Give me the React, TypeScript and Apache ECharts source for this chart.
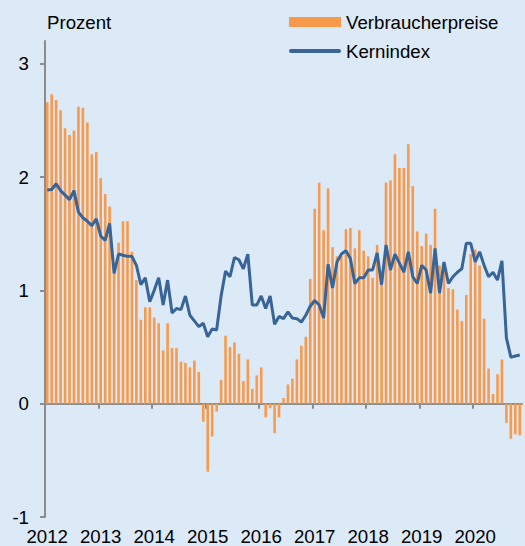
import React, { useEffect, useRef } from "react";
import * as echarts from "echarts";

const years = ["2012", "2013", "2014", "2015", "2016", "2017", "2018", "2019", "2020"];
const monthsInLastYear = 11;
const months: string[] = [];
years.forEach((y, yi) => {
  const n = yi === years.length - 1 ? monthsInLastYear : 12;
  for (let m = 1; m <= n; m++) months.push(`${y}-${String(m).padStart(2, "0")}`);
});

const verbraucherpreise = [
  2.66, 2.73, 2.68, 2.59, 2.43, 2.37, 2.41, 2.62, 2.61, 2.48, 2.2, 2.22,
  1.99, 1.85, 1.74, 1.15, 1.42, 1.61, 1.61, 1.34, 1.09, 0.74, 0.85, 0.85,
  0.76, 0.71, 0.47, 0.71, 0.49, 0.49, 0.37, 0.36, 0.32, 0.38, 0.28, -0.16,
  -0.6, -0.29, -0.07, 0.21, 0.6, 0.5, 0.54, 0.44, 0.2, 0.39, 0.13, 0.25,
  0.32, -0.12, -0.04, -0.26, -0.12, 0.05, 0.17, 0.22, 0.39, 0.51, 0.59, 1.1,
  1.72, 1.95, 1.53, 1.9, 1.38, 1.3, 1.3, 1.54, 1.55, 1.37, 1.53, 1.35,
  1.3, 1.11, 1.4, 1.05, 1.95, 1.97, 2.2, 2.08, 2.08, 2.29, 1.92, 1.52,
  1.39, 1.5, 1.4, 1.72, 1.22, 1.2, 1.02, 1.01, 0.83, 0.73, 0.96, 1.32,
  1.36, 1.22, 0.75, 0.31, 0.085, 0.26, 0.39, -0.17, -0.31, -0.27, -0.28,
];

const kernindex = [
  1.885, 1.89, 1.94, 1.88, 1.84, 1.8, 1.88, 1.69, 1.64, 1.61, 1.57, 1.63,
  1.48, 1.44, 1.59, 1.15, 1.32, 1.31, 1.3, 1.3, 1.22, 1.05, 1.11, 0.9,
  1.0, 1.11, 0.87, 1.09, 0.8, 0.84, 0.83, 0.95, 0.78, 0.73, 0.68, 0.71,
  0.59, 0.66, 0.65, 0.95, 1.17, 1.12, 1.29, 1.27, 1.19, 1.32, 0.87, 0.87,
  0.95, 0.84, 0.95, 0.7, 0.77, 0.75, 0.81, 0.755, 0.75, 0.72, 0.78, 0.86,
  0.91, 0.87, 0.755, 1.23, 1.02, 1.25, 1.32, 1.35, 1.28, 1.06, 1.11, 1.11,
  1.18, 1.18, 1.33, 1.05, 1.4, 1.18, 1.32, 1.24, 1.16, 1.34, 1.12, 1.06,
  1.22, 1.18, 0.975, 1.37, 0.975, 1.25, 1.06, 1.12, 1.16, 1.19, 1.415, 1.415,
  1.25, 1.34, 1.22, 1.12, 1.16, 1.09, 1.26, 0.58, 0.41, 0.42, 0.43,
];

const yTicks = [-1, 0, 1, 2, 3];
const yearStartIndices = years.map((_, i) => i * 12);

const FONT = "Arial, 'Liberation Sans', sans-serif";
const FS = 18.67;
const ORANGE = "#F89A4C";
const BLUE = "#386497";
const GRAY = "#8C8C8C";

export default function App() {
  const ref = useRef<HTMLDivElement>(null);
  useEffect(() => {
    if (!ref.current) return;
    const chart = echarts.init(ref.current, null, { renderer: "svg" });
    chart.setOption({
      animation: false,
      backgroundColor: "#DCE9F7",
      textStyle: { fontFamily: FONT },
      title: {
        text: "Prozent",
        left: 47,
        top: 13,
        padding: 0,
        textStyle: { fontSize: FS, fontWeight: "normal", color: "#000", fontFamily: FONT },
      },
      legend: {
        orient: "vertical",
        left: 289,
        top: 12.5,
        padding: 0,
        itemWidth: 52,
        itemHeight: 10,
        itemGap: 10,
        selectedMode: false,
        textStyle: { fontSize: FS, color: "#000", lineHeight: 19, fontFamily: FONT },
        data: [
          { name: "Verbraucherpreise", icon: "rect", itemStyle: { borderWidth: 0 } },
          {
            name: "Kernindex",
            icon: "path://M2,0L50,0A2,2,0,0,1,50,4L2,4A2,2,0,0,1,2,0Z",
            itemStyle: { borderWidth: 0 },
          },
        ],
      },
      grid: { left: 45, right: 3, top: 41, bottom: 28.3, containLabel: false },
      xAxis: [
        {
          type: "value",
          min: 0,
          max: months.length,
          position: "bottom",
          axisLine: { show: true, onZero: true, lineStyle: { color: GRAY, width: 2 } },
          axisTick: { show: true, customValues: yearStartIndices, length: 5, lineStyle: { color: GRAY, width: 2 } },
          axisLabel: { show: false },
          splitLine: { show: false },
        },
        {
          type: "category",
          data: months,
          boundaryGap: true,
          position: "bottom",
          axisLine: { show: false, onZero: false },
          axisTick: { show: false },
          axisLabel: {
            interval: (i: number) => i % 12 === 0,
            formatter: (v: string) => v.slice(0, 4),
            fontSize: FS,
            color: "#000",
            margin: 10,
            fontFamily: FONT,
          },
          splitLine: { show: false },
        },
      ],
      yAxis: {
        type: "value",
        min: -1,
        max: 3.2,
        axisLine: { show: true, onZero: false, lineStyle: { color: GRAY, width: 2 } },
        axisTick: { show: true, customValues: yTicks, length: 5, lineStyle: { color: GRAY, width: 2 } },
        axisLabel: {
          customValues: yTicks,
          fontSize: FS,
          color: "#000",
          margin: 16,
          fontFamily: FONT,
        },
        splitLine: { show: false },
      },
      series: [
        {
          name: "Verbraucherpreise",
          type: "bar",
          xAxisIndex: 1,
          data: verbraucherpreise,
          barWidth: "58%",
          itemStyle: { color: ORANGE },
          z: 2,
        },
        {
          name: "Kernindex",
          type: "line",
          xAxisIndex: 1,
          data: kernindex,
          symbol: "none",
          showSymbol: false,
          lineStyle: { color: BLUE, width: 3 },
          itemStyle: { color: BLUE },
          z: 3,
        },
      ],
    });
    return () => chart.dispose();
  }, []);
  return <div ref={ref} style={{ position: "fixed", left: 0, top: 0, width: 525, height: 546 }} />;
}
